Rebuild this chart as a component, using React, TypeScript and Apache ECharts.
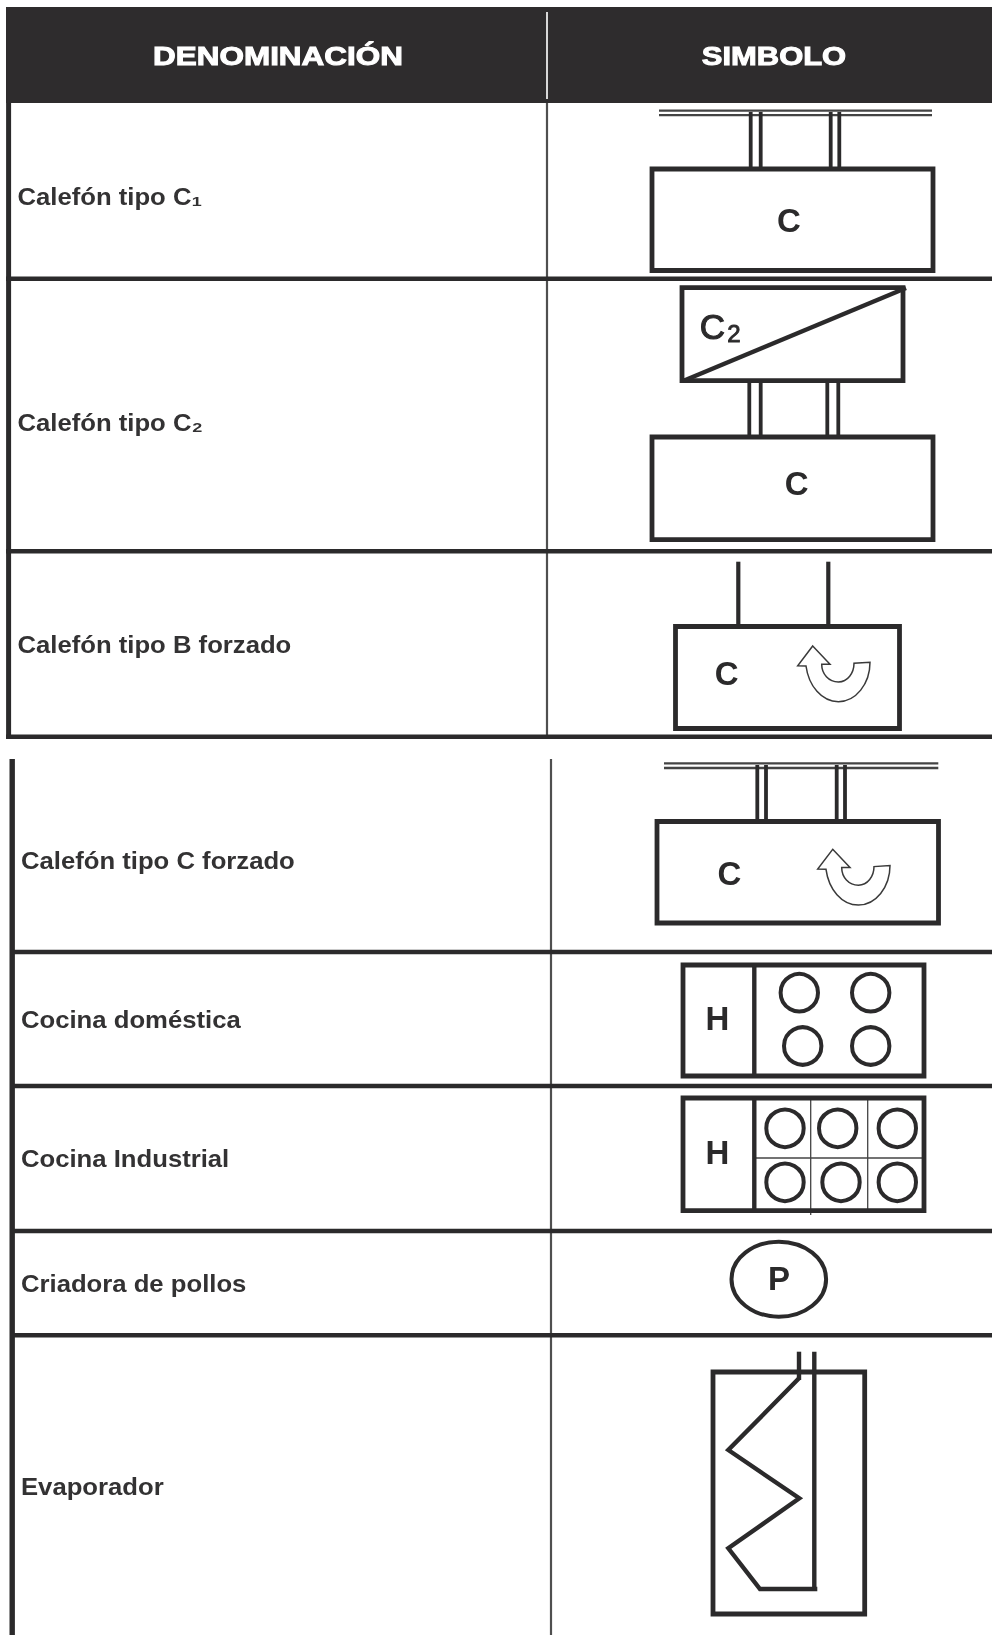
import React, { useEffect, useRef } from "react";
import * as echarts from "echarts";

const headers = ["DENOMINACIÓN", "SIMBOLO"];
const upperRowLabels = ["Calefón tipo C₁", "Calefón tipo C₂", "Calefón tipo B forzado"];
const upperLabelY = [197, 422.5, 645];
const lowerRowLabels = ["Calefón tipo C forzado", "Cocina doméstica", "Cocina Industrial", "Criadora de pollos", "Evaporador"];
const lowerLabelY = [860.7, 1020, 1159, 1284, 1487];
const upperRowLines = [278.7, 551.3, 736.8];
const lowerRowLines = [952, 1086, 1231, 1335.3];

const INK = "#2b2a2b";
const FONT = "'Liberation Sans', Arial, sans-serif";
const ARROW = "M0 0 L17.3 18.3 L9 18.3 C9 28 16 36 25.7 36 C35 36 41.3 27 41.3 17.3 L57.3 16.3 C57.3 38 43 55.7 25.7 55.7 C9 55.7 -4 40 -6.7 20 L-15 19.7 Z";
echarts.graphic.registerShape("turnArrow", echarts.graphic.extendPath(ARROW, {}) as any);

const line = (x1: number, y1: number, x2: number, y2: number, w = 4.4, c = INK) => ({
  type: "line", shape: { x1, y1, x2, y2 }, style: { stroke: c, lineWidth: w, lineCap: "butt" }, silent: true,
});
const box = (x: number, y: number, x2: number, y2: number, w = 4.8) => ({
  type: "rect", shape: { x, y, width: x2 - x, height: y2 - y }, style: { fill: "none", stroke: INK, lineWidth: w }, silent: true,
});
const ring = (cx: number, cy: number, r = 18.7) => ({
  type: "circle", shape: { cx, cy, r }, style: { fill: "none", stroke: INK, lineWidth: 4 }, silent: true,
});
const text = (t: string, x: number, y: number, size: number, opts: any = {}) => ({
  type: "text", x, y, scaleX: opts.scaleX ?? 1, silent: true,
  style: {
    text: t, fontFamily: FONT, fontSize: size, fontWeight: opts.weight ?? "bold", fill: opts.fill ?? INK,
    align: opts.align ?? "center", verticalAlign: "middle", stroke: opts.stroke, lineWidth: opts.strokeW ?? 0,
  },
});
const label = (t: string, x: number, y: number) => text(t, x, y, 24, { align: "left", scaleX: 1.07, fill: "#333233" });
const doublePipe = (a: number, b: number, y1: number, y2: number) => [line(a, y1, a, y2, 3.8), line(b, y1, b, y2, 3.8)];
const rail = (x1: number, x2: number, y: number) => [line(x1, y, x2, y, 2.3, "#444444"), line(x1, y + 4.6, x2, y + 4.6, 2.3, "#444444")];
const arrow = (x: number, y: number) => ({
  type: "turnArrow", x, y, silent: true, style: { fill: "none", stroke: "#3a3a3a", lineWidth: 1.5 },
});

function buildElements() {
  const els: any[] = [];
  // header
  els.push({ type: "rect", shape: { x: 6, y: 7, width: 986, height: 96 }, style: { fill: "#2e2c2d" }, silent: true });
  els.push(line(547, 12, 547, 99, 2, "#d8d8d8"));
  els.push(text(headers[0], 278, 56, 26, { fill: "#ffffff", scaleX: 1.21, stroke: "#ffffff", strokeW: 1 }));
  els.push(text(headers[1], 774, 56, 26, { fill: "#ffffff", scaleX: 1.19, stroke: "#ffffff", strokeW: 1 }));

  // upper table frame
  els.push(line(8.6, 103, 8.6, 739, 5));
  els.push(line(547, 103, 547, 737, 2.2, "#4f4f4f"));
  upperRowLines.forEach((y) => els.push(line(6, y, 992, y)));
  upperRowLabels.forEach((t, i) => els.push(label(t, 17.5, upperLabelY[i])));

  // lower table frame
  els.push(line(12.2, 759, 12.2, 1635, 5.4));
  els.push(line(551, 759, 551, 1635, 2.2, "#4f4f4f"));
  lowerRowLines.forEach((y) => els.push(line(12, y, 992, y)));
  lowerRowLabels.forEach((t, i) => els.push(label(t, 21, lowerLabelY[i])));

  // Calefón C1
  els.push(...rail(659, 932, 110.6));
  els.push(...doublePipe(750.7, 760.7, 112, 168), ...doublePipe(830.7, 839.3, 112, 168));
  els.push(box(652, 169, 933, 270.5));
  els.push(text("C", 789, 220.5, 33));

  // Calefón C2
  els.push(box(682, 287.7, 903, 380.7));
  els.push(line(683, 381, 906, 288, 4.4));
  els.push(text("C", 712.5, 326, 35, { weight: "normal", stroke: INK, strokeW: 1.1 }));
  els.push(text("2", 734, 333, 24, { weight: "normal", stroke: INK, strokeW: 0.9 }));
  els.push(...doublePipe(749.3, 760.7, 382, 436), ...doublePipe(827.3, 838.3, 382, 436));
  els.push(box(652, 437, 933, 539.7));
  els.push(text("C", 796.7, 483.5, 33));

  // Calefón B forzado
  els.push(line(738.3, 561.7, 738.3, 625, 4.2), line(828.3, 561.7, 828.3, 625, 4.2));
  els.push(box(675.5, 626.5, 899.5, 728.5));
  els.push(text("C", 726.7, 673, 33));
  els.push(arrow(812.7, 646));

  // Calefón C forzado
  els.push(...rail(664, 938.3, 763.4));
  els.push(...doublePipe(757.3, 766, 765, 821), ...doublePipe(836.7, 845, 765, 821));
  els.push(box(657, 821.5, 938.5, 923));
  els.push(text("C", 729.3, 873, 33));
  els.push(arrow(832.7, 849.3));

  // Cocina doméstica
  els.push(box(683, 965, 924, 1076));
  els.push(line(754.3, 965, 754.3, 1076, 4.4));
  els.push(text("H", 717.3, 1018.5, 33));
  els.push(ring(799.3, 992.7), ring(870.7, 992.7), ring(802.7, 1046), ring(870.7, 1046));

  // Cocina Industrial
  els.push(line(810.7, 1098, 810.7, 1215, 1.3, "#444"), line(867.7, 1098, 867.7, 1210, 1.3, "#444"), line(754, 1158, 924, 1158, 1.3, "#444"));
  els.push(box(683, 1098, 924, 1210.7));
  els.push(line(754.3, 1098, 754.3, 1210.7, 4.4));
  els.push(text("H", 717.3, 1152, 33));
  els.push(ring(785, 1128.3), ring(837.7, 1128.3), ring(897.3, 1128.3), ring(785, 1182.3), ring(841, 1182.3), ring(897.3, 1182.3));

  // Criadora de pollos
  els.push({ type: "ellipse", shape: { cx: 778.8, cy: 1279.2, rx: 47.3, ry: 37.5 }, style: { fill: "none", stroke: INK, lineWidth: 4 }, silent: true });
  els.push(text("P", 779, 1278.5, 33));

  // Evaporador
  els.push(box(713, 1372, 864.7, 1614));
  els.push(line(799, 1351.7, 799, 1380, 4.4), line(814.3, 1351.7, 814.3, 1589, 4.4));
  els.push({
    type: "polyline",
    shape: { points: [[799, 1378.3], [728.3, 1450], [799.3, 1498.3], [728.3, 1548.3], [760, 1589], [817.3, 1589]] },
    style: { fill: "none", stroke: INK, lineWidth: 4.4, lineJoin: "miter" }, silent: true,
  });
  return els;
}

export default function App() {
  const ref = useRef<HTMLDivElement>(null);
  useEffect(() => {
    const chart = echarts.init(ref.current!, undefined, { renderer: "svg" });
    chart.setOption({ animation: false, backgroundColor: "#ffffff", graphic: { elements: buildElements() } });
    return () => chart.dispose();
  }, []);
  return <div ref={ref} style={{ position: "absolute", left: 0, top: 0, width: 992, height: 1635, filter: "blur(0.45px)" }} />;
}
